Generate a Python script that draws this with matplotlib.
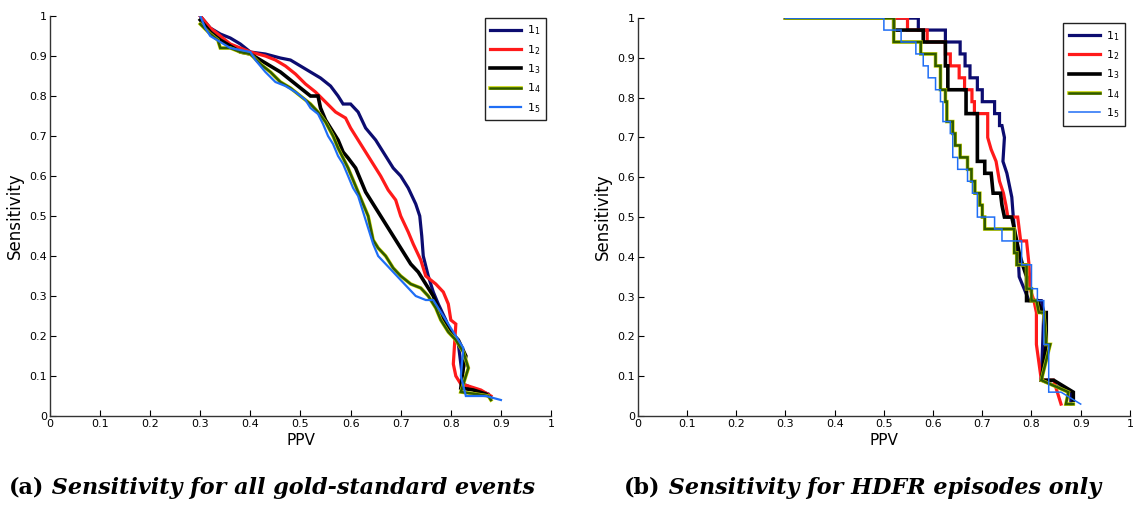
import matplotlib
matplotlib.use("Agg")
import matplotlib.pyplot as plt
import matplotlib.patheffects as pe
import numpy as np

# left panel: all gold-standard events (PPV, sensitivity)
left_l1 = [(0.30, 1.00), (0.32, 0.97), (0.34, 0.955), (0.36, 0.945), (0.38, 0.93), (0.40, 0.91),
           (0.43, 0.905), (0.46, 0.895), (0.48, 0.89), (0.50, 0.875), (0.52, 0.86), (0.54, 0.845),
           (0.56, 0.825), (0.575, 0.80), (0.585, 0.78), (0.60, 0.78), (0.615, 0.76), (0.63, 0.72),
           (0.65, 0.69), (0.67, 0.65), (0.685, 0.62), (0.70, 0.60), (0.715, 0.57), (0.73, 0.53),
           (0.738, 0.50), (0.742, 0.45), (0.745, 0.40), (0.755, 0.35), (0.765, 0.31), (0.775, 0.28),
           (0.79, 0.24), (0.80, 0.21), (0.815, 0.18), (0.82, 0.13), (0.825, 0.08), (0.85, 0.065),
           (0.875, 0.055), (0.88, 0.045)]
left_l2 = [(0.30, 1.00), (0.32, 0.97), (0.34, 0.95), (0.36, 0.93), (0.38, 0.92), (0.40, 0.91),
           (0.43, 0.90), (0.45, 0.89), (0.47, 0.875), (0.49, 0.855), (0.51, 0.83), (0.53, 0.81),
           (0.55, 0.785), (0.57, 0.76), (0.59, 0.745), (0.60, 0.72), (0.615, 0.69), (0.63, 0.66),
           (0.645, 0.63), (0.66, 0.60), (0.675, 0.565), (0.69, 0.54), (0.70, 0.50), (0.715, 0.46),
           (0.725, 0.43), (0.74, 0.39), (0.75, 0.35), (0.77, 0.33), (0.785, 0.31), (0.795, 0.28),
           (0.80, 0.24), (0.81, 0.23), (0.805, 0.13), (0.81, 0.10), (0.82, 0.08), (0.835, 0.075),
           (0.86, 0.065), (0.88, 0.05)]
left_l3 = [(0.30, 0.99), (0.32, 0.96), (0.34, 0.94), (0.36, 0.925), (0.38, 0.91), (0.40, 0.905),
           (0.42, 0.89), (0.44, 0.875), (0.46, 0.86), (0.48, 0.84), (0.50, 0.82), (0.52, 0.80),
           (0.535, 0.80), (0.54, 0.77), (0.55, 0.74), (0.565, 0.71), (0.575, 0.69), (0.585, 0.66),
           (0.595, 0.645), (0.61, 0.62), (0.62, 0.59), (0.63, 0.56), (0.645, 0.53), (0.66, 0.50),
           (0.675, 0.47), (0.69, 0.44), (0.705, 0.41), (0.72, 0.38), (0.735, 0.36), (0.75, 0.33),
           (0.765, 0.30), (0.775, 0.27), (0.785, 0.24), (0.80, 0.21), (0.815, 0.19), (0.83, 0.15),
           (0.825, 0.12), (0.82, 0.07), (0.845, 0.065), (0.87, 0.055), (0.88, 0.045)]
left_l4 = [(0.30, 0.98), (0.32, 0.955), (0.335, 0.94), (0.34, 0.92), (0.36, 0.92), (0.38, 0.91),
           (0.40, 0.905), (0.42, 0.88), (0.44, 0.86), (0.46, 0.835), (0.48, 0.82), (0.50, 0.80),
           (0.52, 0.78), (0.535, 0.76), (0.55, 0.735), (0.565, 0.70), (0.575, 0.67), (0.585, 0.645),
           (0.595, 0.62), (0.605, 0.59), (0.615, 0.56), (0.625, 0.53), (0.635, 0.50), (0.64, 0.47),
           (0.645, 0.44), (0.655, 0.42), (0.67, 0.40), (0.685, 0.37), (0.70, 0.35), (0.72, 0.33),
           (0.74, 0.32), (0.755, 0.30), (0.77, 0.27), (0.78, 0.24), (0.795, 0.21), (0.81, 0.19),
           (0.825, 0.16), (0.835, 0.12), (0.83, 0.10), (0.82, 0.06), (0.85, 0.055), (0.875, 0.05),
           (0.88, 0.04)]
left_l5 = [(0.30, 1.00), (0.31, 0.97), (0.32, 0.95), (0.34, 0.935), (0.36, 0.92), (0.38, 0.915),
           (0.40, 0.91), (0.41, 0.89), (0.42, 0.875), (0.43, 0.86), (0.45, 0.835), (0.47, 0.825),
           (0.49, 0.81), (0.51, 0.79), (0.52, 0.77), (0.535, 0.755), (0.545, 0.73), (0.555, 0.70),
           (0.565, 0.68), (0.575, 0.65), (0.585, 0.63), (0.595, 0.60), (0.605, 0.57), (0.615, 0.55),
           (0.625, 0.51), (0.635, 0.47), (0.645, 0.43), (0.655, 0.40), (0.67, 0.38), (0.685, 0.36),
           (0.70, 0.34), (0.715, 0.32), (0.73, 0.30), (0.75, 0.29), (0.765, 0.29), (0.775, 0.27),
           (0.785, 0.25), (0.80, 0.22), (0.81, 0.20), (0.825, 0.17), (0.82, 0.10), (0.83, 0.05),
           (0.84, 0.05), (0.87, 0.05), (0.90, 0.04)]

# right panel: HDFR episodes only
right_l1 = [(0.30, 1.00), (0.57, 1.00), (0.57, 0.97), (0.625, 0.97), (0.625, 0.94), (0.655, 0.94),
            (0.655, 0.91), (0.665, 0.91), (0.665, 0.88), (0.675, 0.88), (0.675, 0.85), (0.69, 0.85),
            (0.69, 0.82), (0.70, 0.82), (0.70, 0.79), (0.725, 0.79), (0.725, 0.76), (0.735, 0.76),
            (0.735, 0.73), (0.74, 0.73), (0.745, 0.70), (0.742, 0.64), (0.75, 0.61), (0.755, 0.58),
            (0.76, 0.55), (0.763, 0.50), (0.767, 0.45), (0.773, 0.40), (0.775, 0.35), (0.785, 0.32),
            (0.795, 0.29), (0.82, 0.29), (0.825, 0.26), (0.82, 0.09), (0.88, 0.06), (0.88, 0.03)]
right_l2 = [(0.30, 1.00), (0.548, 1.00), (0.548, 0.97), (0.588, 0.97), (0.588, 0.94), (0.625, 0.94),
            (0.625, 0.91), (0.635, 0.91), (0.635, 0.88), (0.653, 0.88), (0.653, 0.85), (0.664, 0.85),
            (0.664, 0.82), (0.679, 0.82), (0.679, 0.79), (0.684, 0.79), (0.684, 0.76), (0.711, 0.76),
            (0.711, 0.70), (0.718, 0.67), (0.728, 0.64), (0.735, 0.59), (0.743, 0.56), (0.748, 0.53),
            (0.752, 0.50), (0.772, 0.50), (0.775, 0.47), (0.778, 0.44), (0.79, 0.44), (0.795, 0.38),
            (0.797, 0.32), (0.805, 0.29), (0.81, 0.26), (0.81, 0.18), (0.82, 0.09), (0.845, 0.09),
            (0.86, 0.03)]
right_l3 = [(0.30, 1.00), (0.52, 1.00), (0.52, 0.97), (0.58, 0.97), (0.58, 0.94), (0.625, 0.94),
            (0.625, 0.88), (0.63, 0.88), (0.63, 0.82), (0.667, 0.82), (0.667, 0.76), (0.69, 0.76),
            (0.69, 0.64), (0.705, 0.64), (0.705, 0.61), (0.718, 0.61), (0.722, 0.56), (0.737, 0.56),
            (0.74, 0.53), (0.745, 0.50), (0.76, 0.50), (0.765, 0.47), (0.77, 0.44), (0.775, 0.41),
            (0.782, 0.38), (0.79, 0.35), (0.79, 0.29), (0.812, 0.29), (0.822, 0.26), (0.83, 0.26),
            (0.83, 0.18), (0.82, 0.09), (0.845, 0.09), (0.885, 0.06), (0.885, 0.04)]
right_l4 = [(0.30, 1.00), (0.52, 1.00), (0.52, 0.94), (0.575, 0.94), (0.575, 0.91), (0.605, 0.91),
            (0.605, 0.88), (0.615, 0.88), (0.615, 0.82), (0.625, 0.82), (0.625, 0.79), (0.628, 0.79),
            (0.628, 0.74), (0.64, 0.74), (0.64, 0.71), (0.645, 0.71), (0.645, 0.68), (0.655, 0.68),
            (0.655, 0.65), (0.67, 0.65), (0.67, 0.62), (0.678, 0.62), (0.678, 0.59), (0.685, 0.59),
            (0.685, 0.56), (0.695, 0.56), (0.695, 0.53), (0.70, 0.53), (0.70, 0.50), (0.705, 0.50),
            (0.705, 0.47), (0.765, 0.47), (0.765, 0.41), (0.77, 0.41), (0.77, 0.38), (0.79, 0.38),
            (0.79, 0.32), (0.80, 0.32), (0.80, 0.29), (0.81, 0.29), (0.815, 0.26), (0.825, 0.26),
            (0.83, 0.18), (0.838, 0.18), (0.82, 0.09), (0.875, 0.06), (0.87, 0.03), (0.885, 0.03)]
right_l5 = [(0.30, 1.00), (0.50, 1.00), (0.50, 0.97), (0.535, 0.97), (0.535, 0.94), (0.565, 0.94),
            (0.565, 0.91), (0.58, 0.91), (0.58, 0.88), (0.59, 0.88), (0.59, 0.85), (0.605, 0.85),
            (0.605, 0.82), (0.615, 0.82), (0.615, 0.79), (0.62, 0.79), (0.62, 0.74), (0.635, 0.74),
            (0.635, 0.71), (0.64, 0.71), (0.64, 0.65), (0.65, 0.65), (0.65, 0.62), (0.67, 0.62),
            (0.67, 0.59), (0.68, 0.59), (0.68, 0.56), (0.69, 0.56), (0.69, 0.50), (0.725, 0.50),
            (0.725, 0.47), (0.74, 0.47), (0.74, 0.44), (0.78, 0.44), (0.78, 0.38), (0.80, 0.38),
            (0.80, 0.32), (0.812, 0.32), (0.812, 0.29), (0.825, 0.29), (0.825, 0.18), (0.835, 0.18),
            (0.835, 0.06), (0.86, 0.06), (0.90, 0.03)]

labels = [r"1$_1$", r"1$_2$", r"1$_3$", r"1$_4$", r"1$_5$"]
colors = ["#0c0c70", "#ff1a1a", "#000000", "#2f5a00", "#1f6ef5"]
widths_left = [2.3, 2.3, 2.6, 1.8, 1.6]
widths_right = [2.3, 2.3, 2.6, 1.8, 1.1]
ticks = np.arange(0, 1.01, 0.1)
tick_labels = ["0", "0.1", "0.2", "0.3", "0.4", "0.5", "0.6", "0.7", "0.8", "0.9", "1"]

fig = plt.figure(figsize=(11.35, 5.27), dpi=100)
ax1 = fig.add_axes([0.044, 0.2106, 0.4415, 0.759])
ax2 = fig.add_axes([0.562, 0.2106, 0.4335, 0.755])

tick_font = ["Liberation Sans Narrow", "DejaVu Sans"]


def draw(ax, series, widths, leg_anchor):
    for s, lab, c, w in zip(series, labels, colors, widths):
        x, y = zip(*s)
        line, = ax.plot(x, y, color=c, lw=w, label=lab, solid_joinstyle="miter")
        if c == "#2f5a00":
            line.set_path_effects([pe.Stroke(linewidth=w + 0.8, foreground="#c8d400"), pe.Normal()])
    ax.set_xlim(0, 1)
    ax.set_ylim(0, 1)
    ax.set_xticks(ticks)
    ax.set_yticks(ticks)
    ax.set_xticklabels(tick_labels, family=tick_font, fontsize=8)
    ax.set_yticklabels(tick_labels, family=tick_font, fontsize=8)
    ax.tick_params(direction="in", length=4, width=0.8, pad=2)
    for side in ["top", "right"]:
        ax.spines[side].set_visible(False)
    for side in ["left", "bottom"]:
        ax.spines[side].set_linewidth(1.0)
        ax.spines[side].set_color("#333333")
    ax.set_xlabel("PPV", family=tick_font, fontsize=11, labelpad=3)
    ax.set_ylabel("Sensitivity", family=tick_font, fontsize=12, labelpad=4)
    leg = ax.legend(loc="upper right", bbox_to_anchor=leg_anchor, fancybox=False,
                    edgecolor="#222222", fontsize=8, handlelength=2.8, labelspacing=0.5,
                    borderpad=0.5, handletextpad=0.5, borderaxespad=0, framealpha=1)
    leg.get_frame().set_linewidth(1.0)


draw(ax1, [left_l1, left_l2, left_l3, left_l4, left_l5], widths_left, (0.99, 0.995))
draw(ax2, [right_l1, right_l2, right_l3, right_l4, right_l5], widths_right, (0.99, 0.987))

# captions
for xpos, tag, rest in [(0.008, "(a)", " Sensitivity for all gold-standard events"),
                        (0.55, "(b)", " Sensitivity for HDFR episodes only")]:
    t = fig.text(xpos, 0.063, tag, family="DejaVu Serif", fontweight="bold", fontsize=16)
    fig.add_artist(plt.Annotation(rest, xy=(1, 0), xycoords=t, va="bottom", ha="left",
                                  family="DejaVu Serif", fontweight="bold", style="italic",
                                  fontsize=16, annotation_clip=False))

fig.savefig("out.png", dpi=100)
